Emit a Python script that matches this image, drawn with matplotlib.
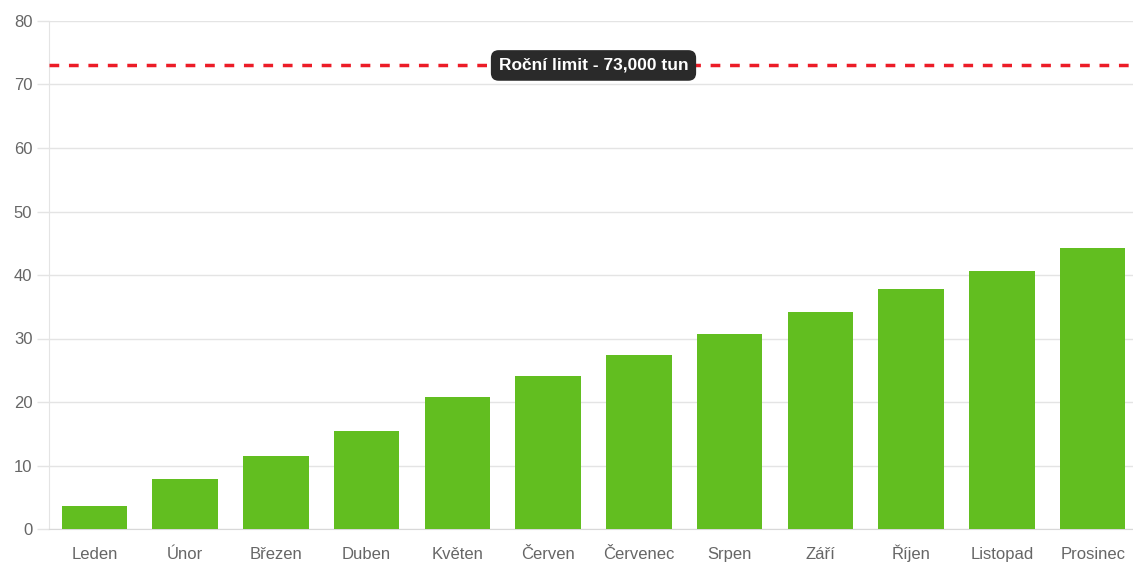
import matplotlib.pyplot as plt
import numpy as np

# Data
months = ['Leden', 'Únor', 'Březen', 'Duben', 'Květen', 'Červen',
          'Červenec', 'Srpen', 'Září', 'Říjen', 'Listopad', 'Prosinec']
values = [3.7, 7.8, 11.5, 15.4, 20.8, 24.1, 27.4, 30.7, 34.2, 37.8, 40.6, 44.3]
limit_value = 73
limit_label = 'Roční limit - 73,000 tun'
y_ticks = [0, 10, 20, 30, 40, 50, 60, 70, 80]

plt.rcParams['font.family'] = ['Liberation Sans', 'DejaVu Sans']
plt.rcParams['lines.scale_dashes'] = False

fig = plt.figure(figsize=(11.33, 5.64), dpi=100)
ax = fig.add_axes([49 / 1133, 1 - 529 / 564, 1089 / 1133, 508 / 564])

grid_col = '#e4e4e4'
x = np.arange(len(months))
ax.bar(x, values, width=0.72, color='#62be20', zorder=3)

# roční limit
ax.axhline(limit_value, color='#ec1c27', lw=2.5, linestyle=(0, (7, 7)), zorder=4)
ax.text(5.5, limit_value, limit_label, ha='center', va='center',
        fontsize=12.5, fontweight='bold', color='white', zorder=6,
        bbox=dict(boxstyle='round,pad=0.45,rounding_size=0.45',
                  fc='#2a2a2a', ec='none'))

ax.set_xlim(-0.5, len(months) - 0.5)
ax.set_ylim(0, 80)
ax.set_yticks(y_ticks)
ax.set_xticks(x)
ax.set_xticklabels(months)
ax.yaxis.grid(True, color=grid_col, lw=1, zorder=0)
ax.set_axisbelow(True)

for s in ['top', 'right']:
    ax.spines[s].set_visible(False)
ax.spines['left'].set_color(grid_col)
ax.spines['bottom'].set_color('#d8d8d8')

ax.tick_params(axis='y', length=9, width=1, color=grid_col, pad=3,
               labelsize=12, labelcolor='#666666')
ax.tick_params(axis='x', length=0, pad=21.5, labelsize=12, labelcolor='#666666')
# zarovnat popisky na účaří, aby háčky neposouvaly text
for lab in ax.get_xticklabels():
    lab.set_verticalalignment('baseline')

fig.savefig('out.png', dpi=100)
